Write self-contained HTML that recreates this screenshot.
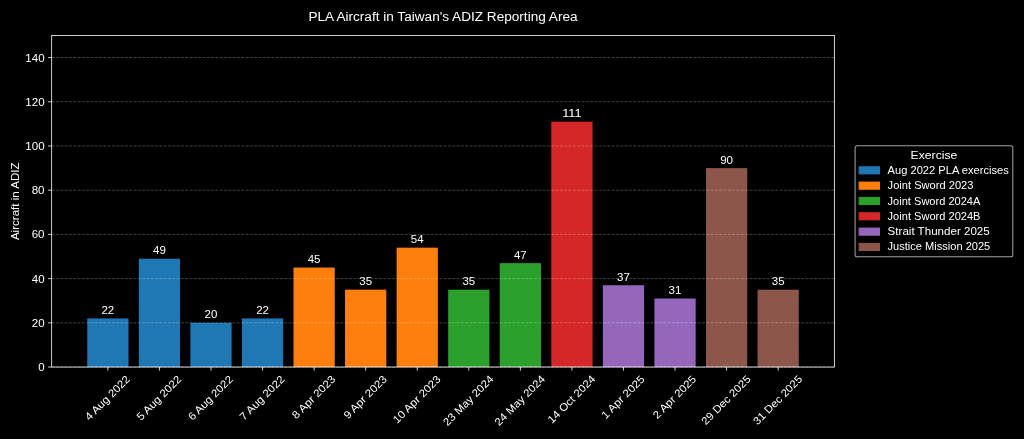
<!DOCTYPE html>
<html><head><meta charset="utf-8"><title>PLA Aircraft in Taiwan's ADIZ Reporting Area</title>
<style>
html,body{margin:0;padding:0;background:#000;width:1024px;height:439px;overflow:hidden}
svg{display:block;transform:translateZ(0)}
text{font-family:"Liberation Sans",sans-serif;fill:#ffffff}
</style></head><body>
<svg width="1024" height="439" viewBox="0 0 1400 600" preserveAspectRatio="none">
<rect x="0" y="0" width="1400" height="600" fill="#000"/>
<g>
<g>
<rect x="119.29" y="435.18" width="56.39" height="66.47" fill="#1f77b4"/>
<rect x="189.79" y="353.60" width="56.39" height="148.05" fill="#1f77b4"/>
<rect x="260.28" y="441.22" width="56.39" height="60.43" fill="#1f77b4"/>
<rect x="330.77" y="435.18" width="56.39" height="66.47" fill="#1f77b4"/>
<rect x="401.26" y="365.69" width="56.39" height="135.96" fill="#ff7f0e"/>
<rect x="471.76" y="395.90" width="56.39" height="105.75" fill="#ff7f0e"/>
<rect x="542.25" y="338.50" width="56.39" height="163.15" fill="#ff7f0e"/>
<rect x="612.74" y="395.90" width="56.39" height="105.75" fill="#2ca02c"/>
<rect x="683.23" y="359.65" width="56.39" height="142.00" fill="#2ca02c"/>
<rect x="753.73" y="166.28" width="56.39" height="335.37" fill="#d62728"/>
<rect x="824.22" y="389.86" width="56.39" height="111.79" fill="#9467bd"/>
<rect x="894.71" y="407.99" width="56.39" height="93.66" fill="#9467bd"/>
<rect x="965.20" y="229.73" width="56.39" height="271.92" fill="#8c564b"/>
<rect x="1035.70" y="395.90" width="56.39" height="105.75" fill="#8c564b"/>
</g><g stroke="#fff" stroke-opacity="0.3" stroke-width="1.111" stroke-dasharray="4.111,1.778">
<line x1="70.65" y1="501.65" x2="1140.73" y2="501.65"/>
<line x1="70.65" y1="441.22" x2="1140.73" y2="441.22"/>
<line x1="70.65" y1="380.80" x2="1140.73" y2="380.80"/>
<line x1="70.65" y1="320.37" x2="1140.73" y2="320.37"/>
<line x1="70.65" y1="259.94" x2="1140.73" y2="259.94"/>
<line x1="70.65" y1="199.51" x2="1140.73" y2="199.51"/>
<line x1="70.65" y1="139.09" x2="1140.73" y2="139.09"/>
<line x1="70.65" y1="78.66" x2="1140.73" y2="78.66"/>
</g><g stroke="#ffffff" stroke-width="1.111">
<line x1="147.49" y1="501.65" x2="147.49" y2="506.51"/>
<line x1="217.98" y1="501.65" x2="217.98" y2="506.51"/>
<line x1="288.47" y1="501.65" x2="288.47" y2="506.51"/>
<line x1="358.97" y1="501.65" x2="358.97" y2="506.51"/>
<line x1="429.46" y1="501.65" x2="429.46" y2="506.51"/>
<line x1="499.95" y1="501.65" x2="499.95" y2="506.51"/>
<line x1="570.45" y1="501.65" x2="570.45" y2="506.51"/>
<line x1="640.94" y1="501.65" x2="640.94" y2="506.51"/>
<line x1="711.43" y1="501.65" x2="711.43" y2="506.51"/>
<line x1="781.92" y1="501.65" x2="781.92" y2="506.51"/>
<line x1="852.42" y1="501.65" x2="852.42" y2="506.51"/>
<line x1="922.91" y1="501.65" x2="922.91" y2="506.51"/>
<line x1="993.40" y1="501.65" x2="993.40" y2="506.51"/>
<line x1="1063.89" y1="501.65" x2="1063.89" y2="506.51"/>
<line x1="70.65" y1="501.65" x2="65.79" y2="501.65"/>
<line x1="70.65" y1="441.22" x2="65.79" y2="441.22"/>
<line x1="70.65" y1="380.80" x2="65.79" y2="380.80"/>
<line x1="70.65" y1="320.37" x2="65.79" y2="320.37"/>
<line x1="70.65" y1="259.94" x2="65.79" y2="259.94"/>
<line x1="70.65" y1="199.51" x2="65.79" y2="199.51"/>
<line x1="70.65" y1="139.09" x2="65.79" y2="139.09"/>
<line x1="70.65" y1="78.66" x2="65.79" y2="78.66"/>
<rect x="70.65" y="48.44" width="1070.08" height="453.21" fill="none"/>
</g>
<rect x="1169.08" y="199.16" width="215.62" height="151.78" rx="2.78" ry="2.78" fill="#000" fill-opacity="0.8" stroke="#ccc" stroke-opacity="0.8" stroke-width="1.389"/>
<rect x="1174.63" y="227.94" width="27.78" height="9.72" fill="#1f77b4" stroke="#1f77b4" stroke-width="1.389"/>
<rect x="1174.63" y="248.88" width="27.78" height="9.72" fill="#ff7f0e" stroke="#ff7f0e" stroke-width="1.389"/>
<rect x="1174.63" y="269.83" width="27.78" height="9.72" fill="#2ca02c" stroke="#2ca02c" stroke-width="1.389"/>
<rect x="1174.63" y="290.77" width="27.78" height="9.72" fill="#d62728" stroke="#d62728" stroke-width="1.389"/>
<rect x="1174.63" y="311.71" width="27.78" height="9.72" fill="#9467bd" stroke="#9467bd" stroke-width="1.389"/>
<rect x="1174.63" y="332.66" width="27.78" height="9.72" fill="#8c564b" stroke="#8c564b" stroke-width="1.389"/>
<text x="122.17" y="575.45" font-size="14.72" textLength="79.62" lengthAdjust="spacingAndGlyphs" transform="rotate(-45 122.17 575.45)">4 Aug 2022</text>
<text x="192.66" y="575.45" font-size="14.72" textLength="79.62" lengthAdjust="spacingAndGlyphs" transform="rotate(-45 192.66 575.45)">5 Aug 2022</text>
<text x="263.11" y="575.54" font-size="14.72" textLength="79.75" lengthAdjust="spacingAndGlyphs" transform="rotate(-45 263.11 575.54)">6 Aug 2022</text>
<text x="333.64" y="575.45" font-size="14.72" textLength="79.62" lengthAdjust="spacingAndGlyphs" transform="rotate(-45 333.64 575.45)">7 Aug 2022</text>
<text x="405.15" y="573.42" font-size="14.72" textLength="76.75" lengthAdjust="spacingAndGlyphs" transform="rotate(-45 405.15 573.42)">8 Apr 2023</text>
<text x="475.65" y="573.42" font-size="14.72" textLength="76.75" lengthAdjust="spacingAndGlyphs" transform="rotate(-45 475.65 573.42)">9 Apr 2023</text>
<text x="543.04" y="579.61" font-size="14.72" textLength="85.50" lengthAdjust="spacingAndGlyphs" transform="rotate(-45 543.04 579.61)">10 Apr 2023</text>
<text x="611.90" y="582.88" font-size="14.72" textLength="90.12" lengthAdjust="spacingAndGlyphs" transform="rotate(-45 611.90 582.88)">23 May 2024</text>
<text x="682.40" y="582.88" font-size="14.72" textLength="90.12" lengthAdjust="spacingAndGlyphs" transform="rotate(-45 682.40 582.88)">24 May 2024</text>
<text x="754.57" y="579.52" font-size="14.72" textLength="85.38" lengthAdjust="spacingAndGlyphs" transform="rotate(-45 754.57 579.52)">14 Oct 2024</text>
<text x="828.11" y="573.42" font-size="14.72" textLength="76.75" lengthAdjust="spacingAndGlyphs" transform="rotate(-45 828.11 573.42)">1 Apr 2025</text>
<text x="898.65" y="573.33" font-size="14.72" textLength="76.62" lengthAdjust="spacingAndGlyphs" transform="rotate(-45 898.65 573.33)">2 Apr 2025</text>
<text x="965.03" y="581.55" font-size="14.72" textLength="88.25" lengthAdjust="spacingAndGlyphs" transform="rotate(-45 965.03 581.55)">29 Dec 2025</text>
<text x="1035.52" y="581.55" font-size="14.72" textLength="88.25" lengthAdjust="spacingAndGlyphs" transform="rotate(-45 1035.52 581.55)">31 Dec 2025</text>
<text x="52.18" y="507.15" font-size="14.72" textLength="8.75" lengthAdjust="spacingAndGlyphs">0</text>
<text x="43.43" y="446.72" font-size="14.72" textLength="17.50" lengthAdjust="spacingAndGlyphs">20</text>
<text x="43.43" y="386.30" font-size="14.72" textLength="17.50" lengthAdjust="spacingAndGlyphs">40</text>
<text x="43.31" y="325.87" font-size="14.72" textLength="17.62" lengthAdjust="spacingAndGlyphs">60</text>
<text x="43.31" y="265.44" font-size="14.72" textLength="17.62" lengthAdjust="spacingAndGlyphs">80</text>
<text x="34.56" y="205.01" font-size="14.72" textLength="26.38" lengthAdjust="spacingAndGlyphs">100</text>
<text x="34.56" y="144.59" font-size="14.72" textLength="26.38" lengthAdjust="spacingAndGlyphs">120</text>
<text x="34.56" y="84.16" font-size="14.72" textLength="26.38" lengthAdjust="spacingAndGlyphs">140</text>
<text x="26.00" y="328.17" font-size="14.72" textLength="106.25" lengthAdjust="spacingAndGlyphs" transform="rotate(-90 26.00 328.17)">Aircraft in ADIZ</text>
<text x="421.75" y="29.00" font-size="17.67" textLength="367.88" lengthAdjust="spacingAndGlyphs">PLA Aircraft in Taiwan&#39;s ADIZ Reporting Area</text>
<text x="138.74" y="429.16" font-size="14.72" textLength="17.50" lengthAdjust="spacingAndGlyphs">22</text>
<text x="209.17" y="347.58" font-size="14.72" textLength="17.62" lengthAdjust="spacingAndGlyphs">49</text>
<text x="279.72" y="435.20" font-size="14.72" textLength="17.50" lengthAdjust="spacingAndGlyphs">20</text>
<text x="350.22" y="429.16" font-size="14.72" textLength="17.50" lengthAdjust="spacingAndGlyphs">22</text>
<text x="420.71" y="359.67" font-size="14.72" textLength="17.50" lengthAdjust="spacingAndGlyphs">45</text>
<text x="491.20" y="389.88" font-size="14.72" textLength="17.50" lengthAdjust="spacingAndGlyphs">35</text>
<text x="561.70" y="332.47" font-size="14.72" textLength="17.50" lengthAdjust="spacingAndGlyphs">54</text>
<text x="632.19" y="389.88" font-size="14.72" textLength="17.50" lengthAdjust="spacingAndGlyphs">35</text>
<text x="702.68" y="353.62" font-size="14.72" textLength="17.50" lengthAdjust="spacingAndGlyphs">47</text>
<text x="768.61" y="160.26" font-size="14.72" textLength="26.62" lengthAdjust="spacingAndGlyphs">111</text>
<text x="843.67" y="383.84" font-size="14.72" textLength="17.50" lengthAdjust="spacingAndGlyphs">37</text>
<text x="914.10" y="401.97" font-size="14.72" textLength="17.62" lengthAdjust="spacingAndGlyphs">31</text>
<text x="984.59" y="223.71" font-size="14.72" textLength="17.62" lengthAdjust="spacingAndGlyphs">90</text>
<text x="1055.14" y="389.88" font-size="14.72" textLength="17.50" lengthAdjust="spacingAndGlyphs">35</text>
<text x="1244.95" y="216.71" font-size="16.19" textLength="63.88" lengthAdjust="spacingAndGlyphs">Exercise</text>
<text x="1213.52" y="237.66" font-size="14.72" textLength="165.62" lengthAdjust="spacingAndGlyphs">Aug 2022 PLA exercises</text>
<text x="1213.52" y="258.60" font-size="14.72" textLength="117.38" lengthAdjust="spacingAndGlyphs">Joint Sword 2023</text>
<text x="1213.52" y="279.55" font-size="14.72" textLength="126.88" lengthAdjust="spacingAndGlyphs">Joint Sword 2024A</text>
<text x="1213.52" y="300.49" font-size="14.72" textLength="127.00" lengthAdjust="spacingAndGlyphs">Joint Sword 2024B</text>
<text x="1213.52" y="321.44" font-size="14.72" textLength="139.62" lengthAdjust="spacingAndGlyphs">Strait Thunder 2025</text>
<text x="1213.52" y="342.38" font-size="14.72" textLength="140.38" lengthAdjust="spacingAndGlyphs">Justice Mission 2025</text>
</g></svg>
</body></html>
